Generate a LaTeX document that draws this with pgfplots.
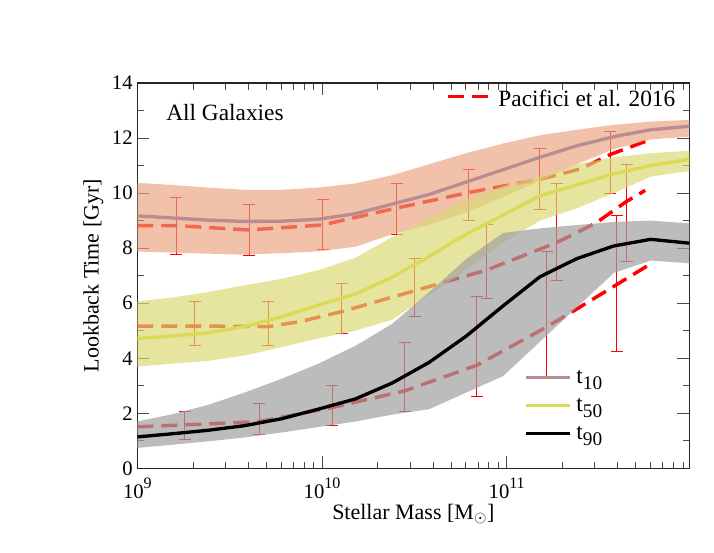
\documentclass[border=0pt]{standalone}
\usepackage{fontspec}
\setmainfont{Liberation Serif}
\usepackage{pgfplots}
\pgfplotsset{compat=1.18}
\definecolor{tenline}{RGB}{185,140,145}
\definecolor{fiftyline}{RGB}{218,218,85}
\definecolor{salmonband}{RGB}{235,160,125}
\definecolor{yellowband}{RGB}{218,216,115}
\definecolor{grayband}{RGB}{160,160,160}
\newcommand{\tsub}[1]{t\raisebox{-5pt}{\fontsize{14.5}{14.5}\selectfont #1}}
\newcommand{\tensup}[1]{10\raisebox{7pt}{\fontsize{12}{12}\selectfont #1}}
\begin{document}
\begin{tikzpicture}
\useasboundingbox (-103pt,-62.8pt) rectangle (432.5pt,351.25pt);
\begin{axis}[
  scale only axis, width=414pt, height=289pt,
  xmode=log, xmin=1e9, xmax=9.75e11, ymin=0, ymax=14,
  xtick={1e9,1e10,1e11}, xticklabels={\tensup{9},\tensup{10},\tensup{11}},
  minor xtick={2e9,3e9,4e9,5e9,6e9,7e9,8e9,9e9,2e10,3e10,4e10,5e10,6e10,7e10,8e10,9e10,2e11,3e11,4e11,5e11,6e11,7e11,8e11,9e11},
  ytick={0,2,...,14}, minor ytick={1,3,...,13},
  tick align=inside, major tick length=9pt, minor tick length=5pt,
  tick style={black!70, line width=0.6pt},
  axis line style={black!85, line width=0.8pt},
  tick label style={font=\fontsize{15.5}{18}\selectfont},
  xticklabel style={inner sep=1pt, yshift=-6.2pt},
  /pgf/number format/assume math mode=true,
  xlabel={Stellar Mass [M$_\odot$]}, ylabel={Lookback Time [Gyr]},
  label style={font=\fontsize{16.5}{20}\selectfont},
  xlabel style={at={(axis description cs:0.5,-0.1315)}, anchor=base, inner sep=0pt},
  ylabel style={at={(axis description cs:-0.0797,0.5)}, anchor=center},
  legend style={at={(axis description cs:0.7006,0.268)}, anchor=north west, draw=none, fill=none, inner sep=0pt,
    font=\fontsize{17.5}{21}\selectfont, nodes={inner sep=1.5pt, text height=12pt, text depth=6pt}, column sep=2pt, row sep=0pt},
  legend cell align=left,
  legend image code/.code={\draw[#1] (0pt,1.5pt) -- (33pt,1.5pt);},
]
% Pacifici et al. 2016 medians (drawn beneath the bands)
\addplot[red, line width=2.6pt, dash pattern=on 12pt off 6pt, forget plot] coordinates {
(1e9,8.82) (1.622e9,8.82) (3.981e9,8.66) (1e10,8.84) (2.512e10,9.45) (6.310e10,10.03) (1.514e11,10.5) (2.512e11,10.88) (3.631e11,11.4) (5.754e11,11.9)};
\addplot[red, line width=2.6pt, dash pattern=on 12pt off 6pt, forget plot] coordinates {
(1e9,5.17) (2.042e9,5.17) (5.129e9,5.15) (7.586e9,5.33) (1.288e10,5.7) (3.162e10,6.45) (7.762e10,7.2) (1.862e11,8.2) (3.020e11,8.9) (4.467e11,9.7) (5.623e11,10.1)};
\addplot[red, line width=2.6pt, dash pattern=on 12pt off 6pt, forget plot] coordinates {
(1e9,1.51) (1.820e9,1.58) (4.571e9,1.7) (1.122e10,2.2) (2.818e10,2.82) (6.918e10,3.75) (1.660e11,5.15) (2.344e11,5.75) (5.888e11,7.39)};
% error bars
\addplot[draw=none, mark=none, forget plot, error bars/.cd, y dir=both, y explicit, error mark=-,
  error bar style={draw=red, line width=0.75pt}, error mark options={rotate=90, draw=red, mark size=4.5pt, line width=0.75pt}] coordinates {
(1.622e9,8.805) +- (0,1.025) (4.027e9,8.675) +- (0,0.925) (1.012e10,8.865) +- (0,0.905) (2.541e10,9.435) +- (0,0.925)
(6.237e10,9.94) +- (0,0.92) (1.514e11,10.51) +- (0,1.12) (3.631e11,11.11) +- (0,1.12)
(2.046e9,5.265) +- (0,0.785) (5.10e9,5.265) +- (0,0.785) (1.282e10,5.805) +- (0,0.895) (3.184e10,6.58) +- (0,1.05)
(7.82e10,7.525) +- (0,1.345) (1.871e11,8.59) +- (0,1.77) (4.48e11,9.29) +- (0,1.76)
(1.81e9,1.545) +- (0,0.515) (4.56e9,1.79) +- (0,0.55) (1.133e10,2.285) +- (0,0.715) (2.81e10,3.31) +- (0,1.25)
(6.90e10,4.43) +- (0,1.83) (1.652e11,5.61) +- (0,2.26) (3.95e11,6.73) +- (0,2.47)};
% bands
\addplot[fill=salmonband, fill opacity=0.65, draw=none, forget plot] coordinates {
(9.550e8,10.38) (1.514e9,10.3) (2.399e9,10.2) (3.802e9,10.12) (6.026e9,10.12) (9.550e9,10.2) (1.514e10,10.35) (2.399e10,10.65) (3.802e10,11.05) (6.026e10,11.45) (9.550e10,11.8) (1.514e11,12.1) (2.399e11,12.3) (3.802e11,12.48) (6.026e11,12.6) (9.75e11,12.66)
(9.75e11,12.05) (6.026e11,11.95) (3.802e11,11.6) (2.399e11,11.05) (1.514e11,10.45) (9.550e10,9.85) (6.026e10,9.3) (3.802e10,8.85) (2.399e10,8.5) (1.514e10,8.05) (9.550e9,7.88) (6.026e9,7.82) (3.802e9,7.76) (2.399e9,7.8) (1.514e9,7.84) (9.550e8,7.88)} -- cycle;
\addplot[fill=yellowband, fill opacity=0.68, draw=none, forget plot] coordinates {
(9.550e8,6.05) (1.514e9,6.2) (2.399e9,6.4) (3.802e9,6.65) (6.026e9,6.88) (9.550e9,7.2) (1.514e10,7.65) (2.399e10,8.4) (3.802e10,9.1) (6.026e10,9.75) (9.550e10,10.25) (1.514e11,10.6) (2.399e11,11.05) (3.802e11,11.3) (6.026e11,11.45) (9.75e11,11.54)
(9.75e11,10.8) (6.026e11,10.6) (3.802e11,10.0) (2.399e11,9.45) (1.514e11,9.0) (9.550e10,8.2) (6.026e10,7.2) (3.802e10,6.3) (2.399e10,5.4) (1.514e10,5.0) (9.550e9,4.72) (6.026e9,4.4) (3.802e9,4.1) (2.399e9,3.9) (1.514e9,3.8) (9.550e8,3.68)} -- cycle;
\addplot[fill=grayband, fill opacity=0.7, draw=none, forget plot] coordinates {
(9.550e8,1.68) (1.514e9,1.95) (2.399e9,2.3) (3.802e9,2.75) (6.026e9,3.25) (9.550e9,3.8) (1.514e10,4.45) (2.399e10,5.25) (3.802e10,6.4) (6.026e10,7.6) (9.550e10,8.55) (1.514e11,8.72) (2.399e11,8.84) (3.802e11,8.95) (6.026e11,9.0) (9.75e11,8.9)
(9.75e11,7.45) (6.026e11,7.55) (3.802e11,7.1) (2.399e11,5.85) (1.514e11,4.6) (9.550e10,3.35) (6.026e10,2.75) (3.802e10,2.15) (2.399e10,1.95) (1.514e10,1.7) (9.550e9,1.5) (6.026e9,1.3) (3.802e9,1.12) (2.399e9,0.98) (1.514e9,0.85) (9.550e8,0.73)} -- cycle;
% median lines
\addplot[tenline, line width=2.5pt, line join=round] coordinates {
(9.550e8,9.18) (1.514e9,9.1) (2.399e9,9.02) (3.802e9,8.97) (6.026e9,8.98) (9.550e9,9.05) (1.514e10,9.25) (2.399e10,9.6) (3.802e10,9.95) (6.026e10,10.4) (9.550e10,10.85) (1.514e11,11.3) (2.399e11,11.72) (3.802e11,12.05) (6.026e11,12.3) (9.75e11,12.43)};
\addlegendentry{\tsub{10}}
\addplot[fiftyline, line width=2.5pt, line join=round] coordinates {
(9.550e8,4.71) (1.514e9,4.8) (2.399e9,4.92) (3.802e9,5.15) (6.026e9,5.5) (9.550e9,5.93) (1.514e10,6.33) (2.399e10,6.95) (3.802e10,7.7) (6.026e10,8.5) (9.550e10,9.2) (1.514e11,9.9) (2.399e11,10.3) (3.802e11,10.7) (6.026e11,11.0) (9.75e11,11.23)};
\addlegendentry{\tsub{50}}
\addplot[black, line width=2.5pt, line join=round] coordinates {
(9.550e8,1.13) (1.514e9,1.25) (2.399e9,1.38) (3.802e9,1.55) (6.026e9,1.8) (9.550e9,2.15) (1.514e10,2.52) (2.399e10,3.1) (3.802e10,3.85) (6.026e10,4.8) (9.550e10,5.9) (1.514e11,6.96) (2.399e11,7.62) (3.802e11,8.08) (6.026e11,8.32) (9.75e11,8.18)};
\addlegendentry{\tsub{90}}
\node[anchor=base west, inner sep=0pt, font=\fontsize{17.5}{21}\selectfont] at (axis description cs:0.052,0.9014) {All Galaxies};
\end{axis}
\begin{axis}[
  scale only axis, width=414pt, height=289pt, hide axis,
  xmin=0, xmax=1, ymin=0, ymax=1,
  legend style={at={(axis description cs:0.5592,0.9852)}, anchor=north west, draw=none, fill=none, inner sep=0pt,
    font=\fontsize{17.5}{21}\selectfont, nodes={inner sep=1.5pt, text height=12pt, text depth=6pt}, column sep=2pt},
  legend image code/.code={\draw[#1] (0pt,5pt) -- (33pt,5pt);},
]
\addlegendimage{red, line width=2.6pt, dash pattern=on 12pt off 6pt}
\addlegendentry{Pacifici et al. 2016}
\end{axis}
\end{tikzpicture}
\end{document}
